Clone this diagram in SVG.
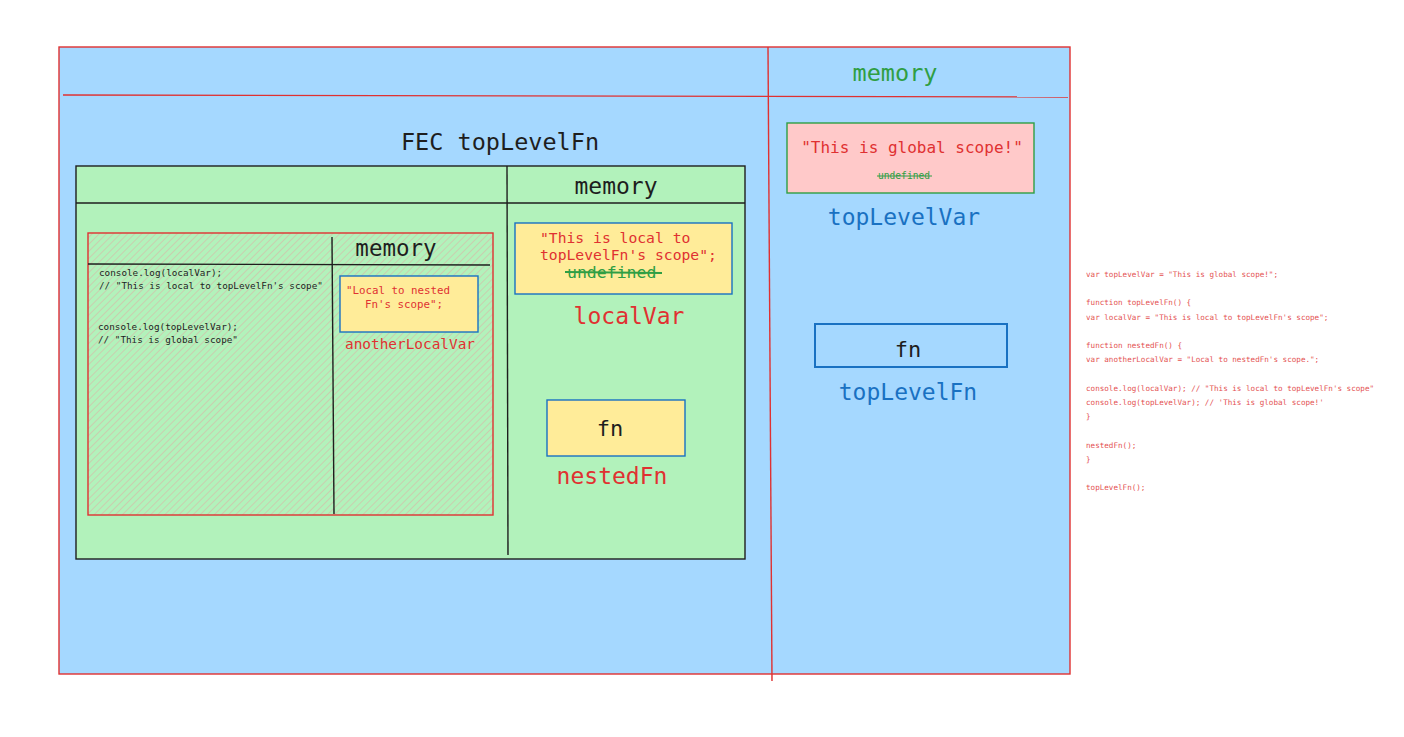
<svg xmlns="http://www.w3.org/2000/svg" width="1404" height="737" viewBox="0 0 1404 737">
<defs>
<pattern id="hatch" patternUnits="userSpaceOnUse" width="5" height="5" patternTransform="rotate(45)">
<rect width="5" height="5" fill="#b2f2bb"/>
<line x1="0" y1="0" x2="0" y2="5" stroke="#e8a0a0" stroke-width="1.6" opacity="0.55"/>
</pattern>
</defs>
<style>
text{font-family:"DejaVu Sans Mono","Liberation Mono",monospace}
.red{fill:#e03131}
.blue{fill:#1971c2}
.green{fill:#2f9e44}
.dark{fill:#1e1e1e}
.rl{stroke:#e03131;stroke-width:1.4;fill:none}
.kl{stroke:#1e1e1e;stroke-width:1.4;fill:none}
.code{font-size:7.6px;fill:#e03131;opacity:0.85}
.small{font-size:9.3px;fill:#1e1e1e}
</style>
<rect width="1404" height="737" fill="#ffffff"/>

<g id="global">
<rect x="59" y="47" width="1011" height="627" fill="#a5d8ff" stroke="#e03131" stroke-width="1.4"/>
<line class="rl" x1="63" y1="95" x2="1068" y2="97"/>
<line class="rl" x1="768" y1="47" x2="772" y2="681"/>
<text x="895" y="81" font-size="23.5" text-anchor="middle" class="green">memory</text>
<text x="500" y="150" font-size="23.5" text-anchor="middle" class="dark">FEC topLevelFn</text>
</g>

<g id="fec">
<rect x="76" y="166" width="669" height="393" fill="#b2f2bb" stroke="#1e1e1e" stroke-width="1.4"/>
<line class="kl" x1="76" y1="203" x2="745" y2="203"/>
<line class="kl" x1="507" y1="166" x2="508" y2="555"/>
<text x="616" y="194" font-size="23" text-anchor="middle" class="dark">memory</text>
</g>

<g id="nested">
<rect x="88" y="233" width="405" height="282" fill="url(#hatch)" stroke="#e03131" stroke-width="1.4"/>
<line class="kl" x1="88" y1="264" x2="490" y2="265"/>
<line class="kl" x1="332" y1="237" x2="334" y2="514"/>
<text x="396" y="256" font-size="22.5" text-anchor="middle" class="dark">memory</text>
<text x="99" y="276" class="small">console.log(localVar);</text>
<text x="99" y="289" class="small">// "This is local to topLevelFn's scope"</text>
<text x="98" y="330" class="small">console.log(topLevelVar);</text>
<text x="98" y="343" class="small">// "This is global scope"</text>
</g>

<g id="anotherLocalVar">
<rect x="340" y="276" width="138" height="56" fill="#ffec99" stroke="#1971c2" stroke-width="1.4"/>
<text x="346" y="294" font-size="10.8" class="red">"Local to nested</text>
<text x="365" y="308" font-size="10.8" class="red">Fn's scope";</text>
<text x="410" y="349" font-size="14.4" text-anchor="middle" class="red">anotherLocalVar</text>
</g>

<g id="localVar">
<rect x="515" y="223" width="217" height="71" fill="#ffec99" stroke="#1971c2" stroke-width="1.4"/>
<text x="540" y="243" font-size="14.7" class="red">"This is local to</text>
<text x="540" y="260" font-size="14.7" class="red">topLevelFn's scope";</text>
<text x="567" y="278" font-size="16.5" class="green">undefined</text>
<line x1="565" y1="272" x2="662" y2="273" stroke="#2f9e44" stroke-width="1.8"/>
<text x="629" y="324" font-size="23" text-anchor="middle" class="red">localVar</text>
</g>

<g id="nestedFn">
<rect x="547" y="400" width="138" height="56" fill="#ffec99" stroke="#1971c2" stroke-width="1.4"/>
<text x="610" y="436" font-size="22" text-anchor="middle" class="dark">fn</text>
<text x="612" y="484" font-size="23" text-anchor="middle" class="red">nestedFn</text>
</g>

<g id="topLevelVar">
<rect x="787" y="123" width="247" height="70" fill="#ffc9c9" stroke="#2f9e44" stroke-width="1.4"/>
<text x="912" y="153" font-size="16" text-anchor="middle" class="red">"This is global scope!"</text>
<text x="904" y="179" font-size="9.6" text-anchor="middle" class="green">undefined</text>
<line x1="877" y1="176" x2="932" y2="176" stroke="#2f9e44" stroke-width="1"/>
<text x="904" y="225" font-size="23" text-anchor="middle" class="blue">topLevelVar</text>
</g>

<g id="topLevelFn">
<rect x="815" y="324" width="192" height="43" fill="#a5d8ff" stroke="#1971c2" stroke-width="2"/>
<text x="908" y="357" font-size="22" text-anchor="middle" class="dark">fn</text>
<text x="908" y="400" font-size="23" text-anchor="middle" class="blue">topLevelFn</text>
</g>

<g id="code">
<text x="1086" y="277" class="code">var topLevelVar = "This is global scope!";</text>
<text x="1086" y="305" class="code">function topLevelFn() {</text>
<text x="1086" y="320" class="code">var localVar = "This is local to topLevelFn's scope";</text>
<text x="1086" y="348" class="code">function nestedFn() {</text>
<text x="1086" y="362" class="code">var anotherLocalVar = "Local to nestedFn's scope.";</text>
<text x="1086" y="391" class="code">console.log(localVar); // "This is local to topLevelFn's scope"</text>
<text x="1086" y="405" class="code">console.log(topLevelVar); // 'This is global scope!'</text>
<text x="1086" y="419" class="code">}</text>
<text x="1086" y="448" class="code">nestedFn();</text>
<text x="1086" y="462" class="code">}</text>
<text x="1086" y="490" class="code">topLevelFn();</text>
</g>
<g id="connectors"></g>
</svg>
